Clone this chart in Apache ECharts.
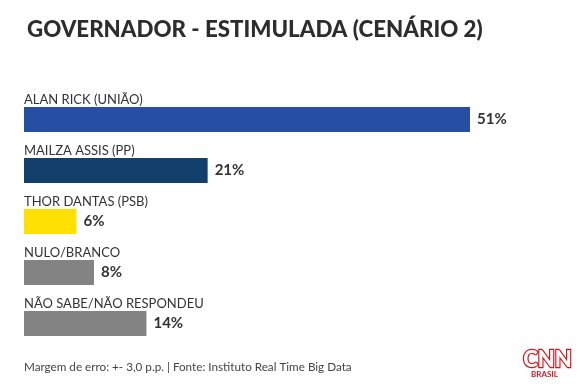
<!DOCTYPE html>
<html><head><meta charset="utf-8">
<script src="https://cdn.jsdelivr.net/npm/echarts@6/dist/echarts.min.js"></script>
<style>html,body{margin:0;padding:0;background:#fff}#c{width:587px;height:390px}</style>
</head><body><div id="c"></div>
<script>
const categories = ['ALAN RICK (UNIÃO)', 'MAILZA ASSIS (PP)', 'THOR DANTAS (PSB)', 'NULO/BRANCO', 'NÃO SABE/NÃO RESPONDEU'];
const values = [51, 21, 6, 8, 14];
const barColors = ['#264fa3', '#123f6b', '#ffe000', '#838383', '#838383'];
const titleText = 'GOVERNADOR - ESTIMULADA (CENÁRIO 2)';
const footerText = 'Margem de erro: +- 3,0 p.p. | Fonte: Instituto Real Time Big Data';

const FONT = 'Lato';
const chart = echarts.init(document.getElementById('c'), null, {renderer: 'canvas'});
chart.setOption({
  animation: false,
  backgroundColor: '#fff',
  title: {
    text: titleText, left: 22, top: 14,
    textStyle: {fontFamily: FONT, fontSize: 22.3, fontWeight: 900, color: '#2d2d2d'}
  },
  grid: {left: 24, right: 38.3, top: 94, bottom: 41},
  xAxis: {type: 'value', min: 0, max: 60, show: false},
  yAxis: {type: 'category', data: categories, inverse: true, show: false},
  series: [
    {
      type: 'bar', barWidth: 25,
      data: values.map((v, i) => ({value: v, itemStyle: {color: barColors[i]}})),
      label: {show: true, position: 'right', distance: 7, formatter: '{c}%',
        fontFamily: FONT, fontSize: 15, fontWeight: 'bold', color: '#333'}
    },
    {
      type: 'bar', barWidth: 25, barGap: '-100%', silent: true,
      data: values.map(v => ({value: v, itemStyle: {color: 'rgba(0,0,0,0)'}})),
      label: {show: true, position: [0, -1], align: 'left', verticalAlign: 'bottom',
        formatter: '{b}', fontFamily: FONT, fontSize: 13, color: '#333'}
    }
  ],
  graphic: [
    {type: 'text', left: 24, top: 361, style: {text: footerText, fontFamily: FONT, fontSize: 11.7, fill: '#444'}},
    {type: 'text', left: 522, top: 348, style: {text: 'CNN', fontFamily: FONT, fontSize: 22, fontWeight: 900, fill: '#fff', stroke: '#d9141b', lineWidth: 2.4}},
    {type: 'text', left: 531, top: 370, style: {text: 'BRASIL', fontFamily: FONT, fontSize: 8, fontWeight: 'bold', fill: '#d9141b'}}
  ]
});
</script></body></html>
